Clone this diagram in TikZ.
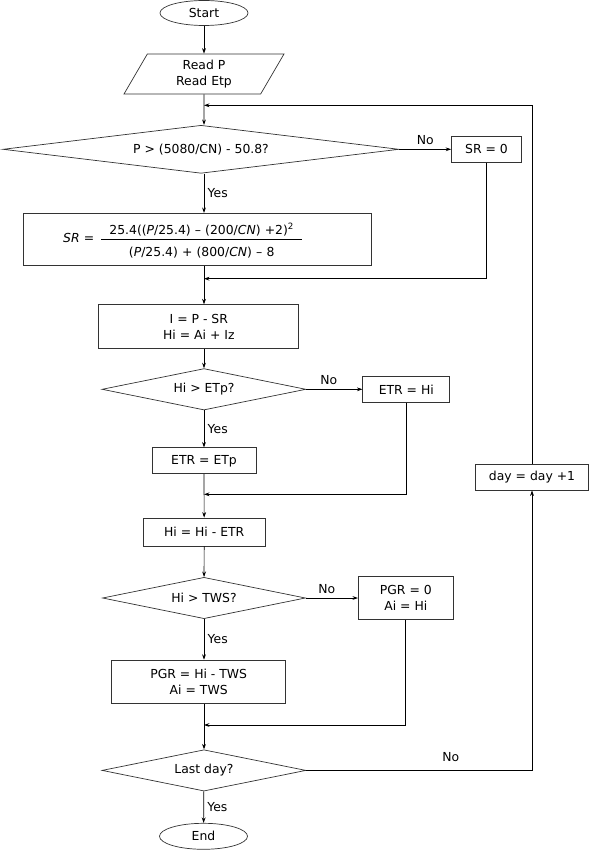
\documentclass[tikz,border=0pt]{standalone}
\usepackage{amsmath}
\usepackage{fontspec}
\setmainfont{DejaVu Sans}
\usetikzlibrary{shapes.geometric,arrows.meta}

\tikzset{
  box/.style={draw=black!80, rectangle, minimum height=26pt, inner sep=0pt, align=center},
  dec/.style={draw=black!80, diamond, aspect=8, inner sep=0pt},
  term/.style={draw=black!80, ellipse, minimum width=88pt, minimum height=25pt, inner sep=0pt},
  io/.style={draw=black!80, trapezium, trapezium left angle=50.5, trapezium right angle=129.5,
    trapezium stretches body, minimum width=160pt, minimum height=40pt, inner sep=0pt, align=center},
  arr/.style={-{Stealth[length=5.5pt,width=3.8pt]}},
}

\begin{document}
\begin{tikzpicture}[x=1pt, y=-1pt, line width=0.7pt, font=\fontsize{12.4}{16.3}\selectfont]
  \useasboundingbox (0,0) rectangle (589,850);

  \node (start) at (204, 13) [term] {Start};
  \node (read) at (204, 74) [io] {Read P\\Read Etp};
  \node (d1) at (201, 149.3) [dec, minimum width=396pt, minimum height=48pt] {P > (5080/CN) - 50.8?};
  \node (sr0) at (486.5, 149.3) [box, minimum width=70pt] {SR = 0};
  \node (formula) at (197.2, 239.3) [box, minimum width=348pt, minimum height=52pt,
    text width=348pt, align=left]
    {\hspace*{40pt}\textit{SR} =\hspace{6pt}$\dfrac{\text{\rule{0pt}{14pt}\hspace{8pt}25.4((\textit{P}/25.4) – (200/\textit{CN}) +2)\textsuperscript{2}\hspace{8pt}}}{\text{\rule{0pt}{16pt}(\textit{P}/25.4) + (800/\textit{CN}) – 8}}$};
  \node (iz) at (198.8, 326.7) [box, minimum width=200pt, minimum height=44pt] {I = P - SR\\Hi = Ai + Iz};
  \node (d2) at (204, 389.3) [dec, minimum width=204pt, minimum height=41.4pt] {Hi > ETp?};
  \node (etrhi) at (406.3, 389.3) [box, minimum width=87pt] {ETR = Hi};
  \node (etretp) at (204, 460.8) [box, minimum width=104pt] {ETR = ETp};
  \node (hietr) at (204.2, 532) [box, minimum width=122pt, minimum height=28pt] {Hi = Hi - ETR};
  \node (d3) at (204, 598) [dec, minimum width=203pt, minimum height=41.3pt] {Hi > TWS?};
  \node (pgr0) at (405.8, 598) [box, minimum width=95pt, minimum height=43.6pt] {PGR = 0\\Ai = Hi};
  \node (pgrtws) at (198.7, 681.7) [box, minimum width=174pt, minimum height=43.3pt] {PGR = Hi - TWS\\Ai = TWS};
  \node (d4) at (204, 770.4) [dec, minimum width=204pt, minimum height=41.3pt] {Last day?};
  \node (end) at (203.5, 836.3) [term, minimum height=26pt] {End};
  \node (day) at (532, 477.2) [box, minimum width=112.6pt, minimum height=25.7pt] {day = day +1};

  \coordinate (loop) at (204, 105.3);
  \coordinate (m1) at (204, 278.7);
  \coordinate (m2) at (204, 494.3);
  \coordinate (m3) at (204, 725);

  \draw[arr] (start) -- (read);
  \draw[arr] (read) -- (read |- d1.north);
  \draw[arr] (d1.south -| m1) -- node[right] {Yes} (m1 |- formula.north);
  \draw[arr] (d1) -- node[above=1pt] {No} (sr0);
  \draw[arr] (sr0) |- (m1);
  \draw[arr] (m1 |- formula.south) -- (m1 |- iz.north);
  \draw[arr] (m1 |- iz.south) -- (d2);
  \draw[arr] (d2) -- node[right] {Yes} (etretp);
  \draw[arr] (d2) -- node[above=1pt, pos=0.4] {No} (etrhi);
  \draw[arr] (etrhi) |- (m2);
  \draw[arr] (etretp) -- (hietr);
  \draw[arr] (hietr) -- (d3);
  \draw[arr] (d3) -- node[right] {Yes} (d3 |- pgrtws.north);
  \draw[arr] (d3) -- node[above=1pt, pos=0.4] {No} (pgr0);
  \draw[arr] (pgr0) |- (m3);
  \draw[arr] (m3 |- pgrtws.south) -- (d4);
  \draw[arr] (d4) -- node[right] {Yes} (end);
  \draw[arr] (d4) -| node[above=5pt, pos=0.32] {No} (day);
  \draw[arr] (day) |- (loop);
\end{tikzpicture}
\end{document}
